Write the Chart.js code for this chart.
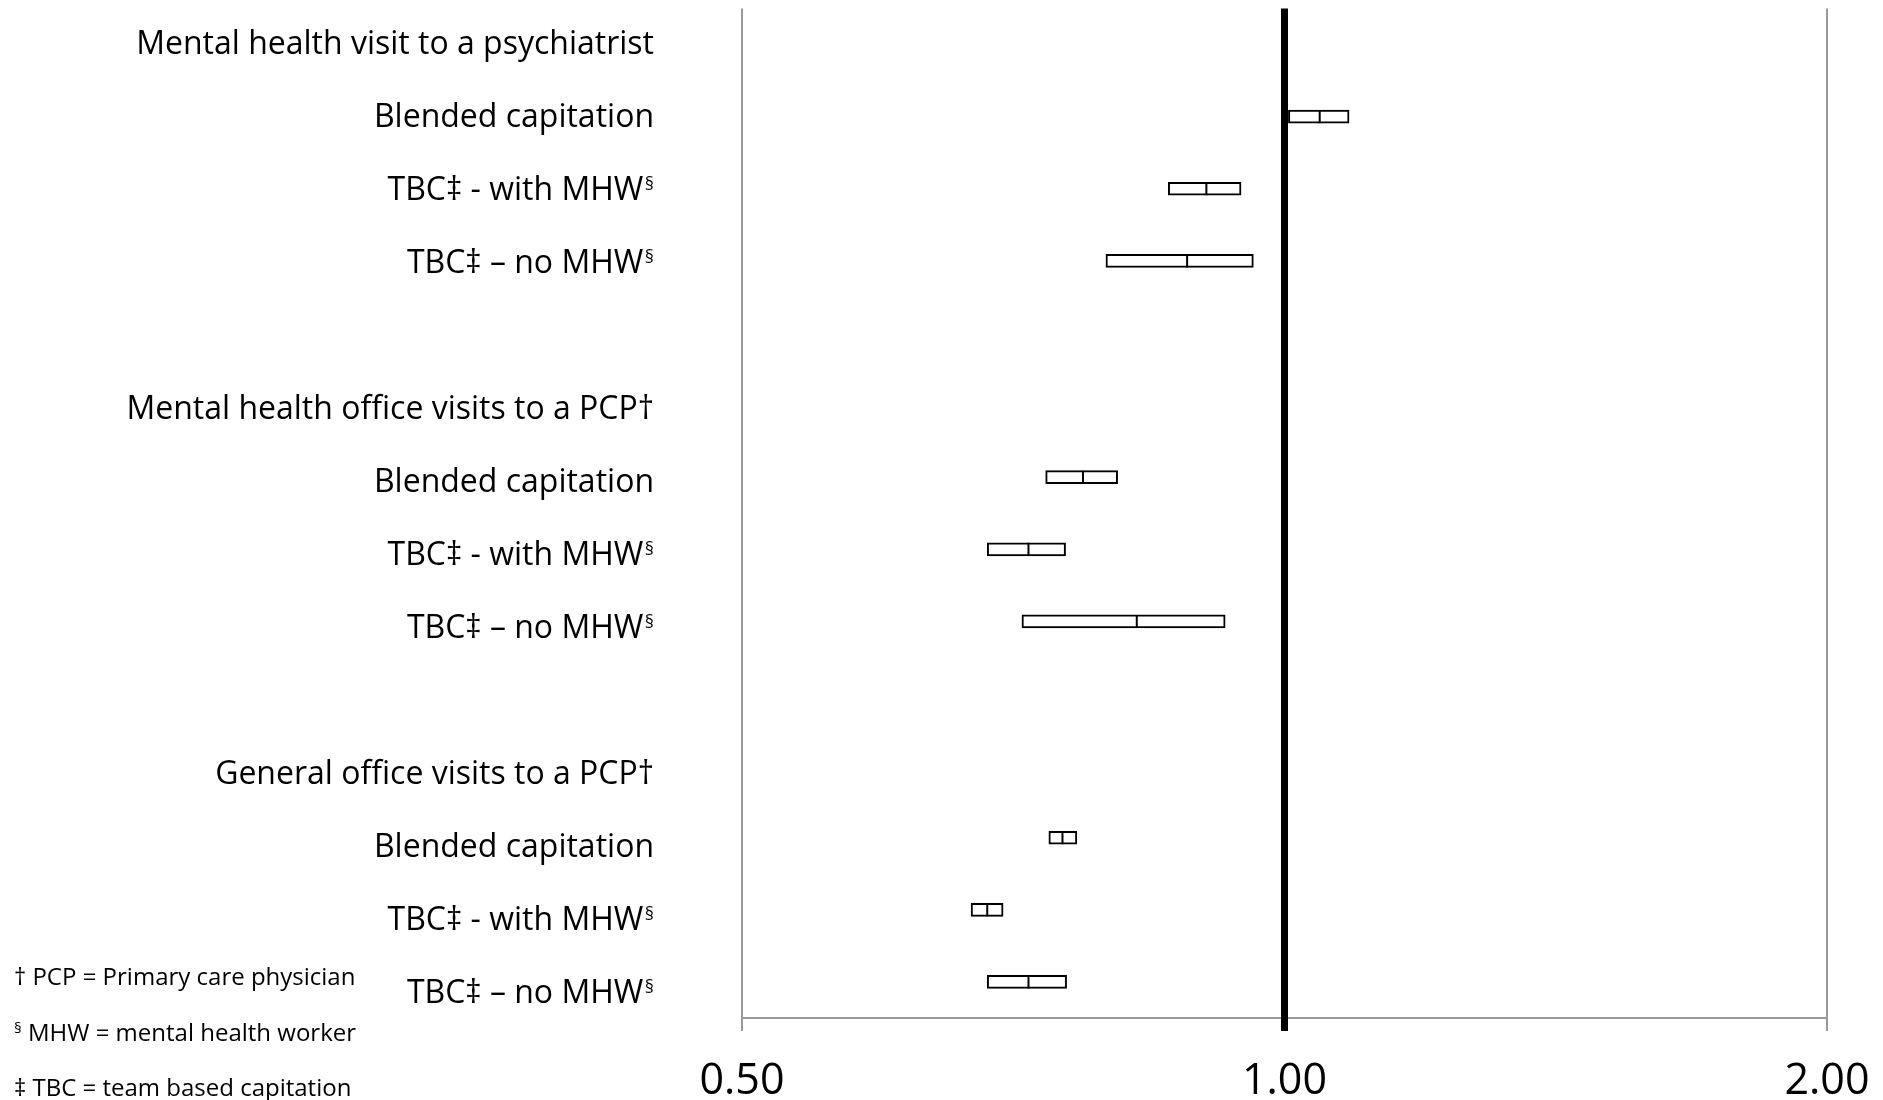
<!DOCTYPE html>
<html>
<head>
<meta charset="utf-8">
<title>Forest plot</title>
<script src="https://cdn.jsdelivr.net/npm/chart.js@4.4.1/dist/chart.umd.min.js"></script>
<style>
  html, body { margin: 0; padding: 0; background: #fff; }
  .wrap { position: relative; width: 1883px; height: 1100px; }
  canvas { display: block; }
  .note { position: absolute; left: 14px; font: 24px/24px 'Open Sans', sans-serif; color: #000; white-space: nowrap; }
  .note sup { font-size: 15px; vertical-align: 8px; line-height: 0; }
</style>
</head>
<body>
<div class="wrap">
  <canvas id="forest" width="1883" height="1100"></canvas>
  <div class="note" style="top:964px">† PCP = Primary care physician</div>
  <div class="note" style="top:1020px"><sup>§</sup> MHW = mental health worker</div>
  <div class="note" style="top:1075px">‡ TBC = team based capitation</div>
</div>
<script>
// row labels, top to bottom (blank rows separate the groups)
const rowLabels = [
  'Mental health visit to a psychiatrist',
  'Blended capitation',
  'TBC‡ - with MHW§',
  'TBC‡ – no MHW§',
  '',
  'Mental health office visits to a PCP†',
  'Blended capitation',
  'TBC‡ - with MHW§',
  'TBC‡ – no MHW§',
  '',
  'General office visits to a PCP†',
  'Blended capitation',
  'TBC‡ - with MHW§',
  'TBC‡ – no MHW§'
];

// rows that carry an estimate
const rowIndex = [1, 2, 3, 6, 7, 8, 11, 12, 13];
const ciLow    = [1.005, 0.862, 0.796, 0.737, 0.684, 0.715, 0.740, 0.670, 0.684];
const estimate = [1.046, 0.905, 0.883, 0.773, 0.721, 0.828, 0.753, 0.684, 0.721];
const ciHigh   = [1.086, 0.946, 0.961, 0.808, 0.756, 0.927, 0.767, 0.698, 0.757];

const xTicks = [0.5, 1, 2];
const refValue = 1;

const LABEL_PAD = 88;

// small raised § after the MHW labels
const supMark = {
  id: 'supMark',
  afterDraw(chart) {
    const scale = chart.scales.yLab;
    const ctx = chart.ctx;
    ctx.save();
    ctx.font = "18px 'Open Sans'";
    ctx.fillStyle = '#000';
    ctx.textAlign = 'right';
    ctx.textBaseline = 'middle';
    rowLabels.forEach((label, i) => {
      if (!label.endsWith('§')) return;
      ctx.fillText('§', scale.right - LABEL_PAD, scale.getPixelForValue(i) - 6);
    });
    ctx.restore();
  }
};

Chart.defaults.font.family = "'Open Sans', sans-serif";
Chart.defaults.color = '#000';

const ctx = document.getElementById('forest').getContext('2d');

const chart = new Chart(ctx, {
  type: 'bar',
  data: {
    datasets: [
      {
        // confidence interval boxes
        type: 'bar',
        order: 1,
        indexAxis: 'y',
        xAxisID: 'x',
        yAxisID: 'y',
        data: rowIndex.map((r, i) => ({ x: [ciLow[i], ciHigh[i]], y: r })),
        backgroundColor: '#fff',
        borderColor: '#000',
        borderWidth: 2,
        borderSkipped: false,
        barThickness: 13
      },
      {
        // point estimate tick inside the box
        type: 'scatter',
        order: 0,
        xAxisID: 'x',
        yAxisID: 'y',
        data: rowIndex.map((r, i) => ({ x: estimate[i], y: r })),
        pointStyle: 'line',
        rotation: 90,
        radius: 6.5,
        borderColor: '#000',
        borderWidth: 2
      }
    ]
  },
  options: {
    responsive: false,
    animation: false,
    devicePixelRatio: 1,
    indexAxis: 'y',
    layout: { padding: { top: 8, right: 56, bottom: 0, left: 0 } },
    plugins: {
      legend: { display: false },
      tooltip: { enabled: false }
    },
    scales: {
      x: {
        type: 'logarithmic',
        position: 'bottom',
        min: 0.5,
        max: 2,
        afterBuildTicks: (scale) => {
          scale.ticks = xTicks.map((v) => ({ value: v }));
        },
        afterFit: (scale) => {
          scale.height = 82;
          scale.paddingLeft = 0;
          scale.paddingRight = 0;
        },
        ticks: {
          autoSkip: false,
          maxRotation: 0,
          padding: 25,
          font: { size: 43 },
          callback: (v) => Number(v).toFixed(2)
        },
        grid: {
          color: (c) => (c.tick && c.tick.value === refValue ? '#000' : '#999'),
          lineWidth: (c) => (c.tick && c.tick.value === refValue ? 7 : 2),
          tickLength: 13
        },
        border: { display: false }
      },
      y: {
        // data rows; only its bottom grid line is shown (the axis line)
        type: 'linear',
        reverse: true,
        offset: false,
        min: -0.5,
        max: 13.5,
        afterBuildTicks: (scale) => {
          scale.ticks = [{ value: 13.5 }];
        },
        afterFit: (scale) => {
          scale.width = 0;
          scale.paddingTop = 0;
          scale.paddingBottom = 0;
        },
        ticks: { display: false },
        grid: { color: '#999', lineWidth: 2, drawTicks: false, offset: false, z: -2 },
        border: { display: false }
      },
      yLab: {
        // label rows sit slightly off the data rows in the original
        type: 'linear',
        position: 'left',
        reverse: true,
        offset: false,
        min: -0.498,
        max: 13.324,
        afterBuildTicks: (scale) => {
          scale.ticks = rowLabels
            .map((t, i) => ({ value: i, t }))
            .filter((d) => d.t !== '')
            .map((d) => ({ value: d.value }));
        },
        afterFit: (scale) => {
          scale.width = 742;
          scale.paddingTop = 0;
          scale.paddingBottom = 0;
        },
        ticks: {
          autoSkip: false,
          padding: LABEL_PAD,
          font: { size: 32 },
          callback: (v) => {
            const t = rowLabels[v];
            return t.endsWith('§') ? t.slice(0, -1) + '\u2004' : t;
          }
        },
        grid: { display: false, drawTicks: false, offset: false },
        border: { display: false }
      }
    }
  },
  plugins: [supMark]
});
</script>
</body>
</html>
